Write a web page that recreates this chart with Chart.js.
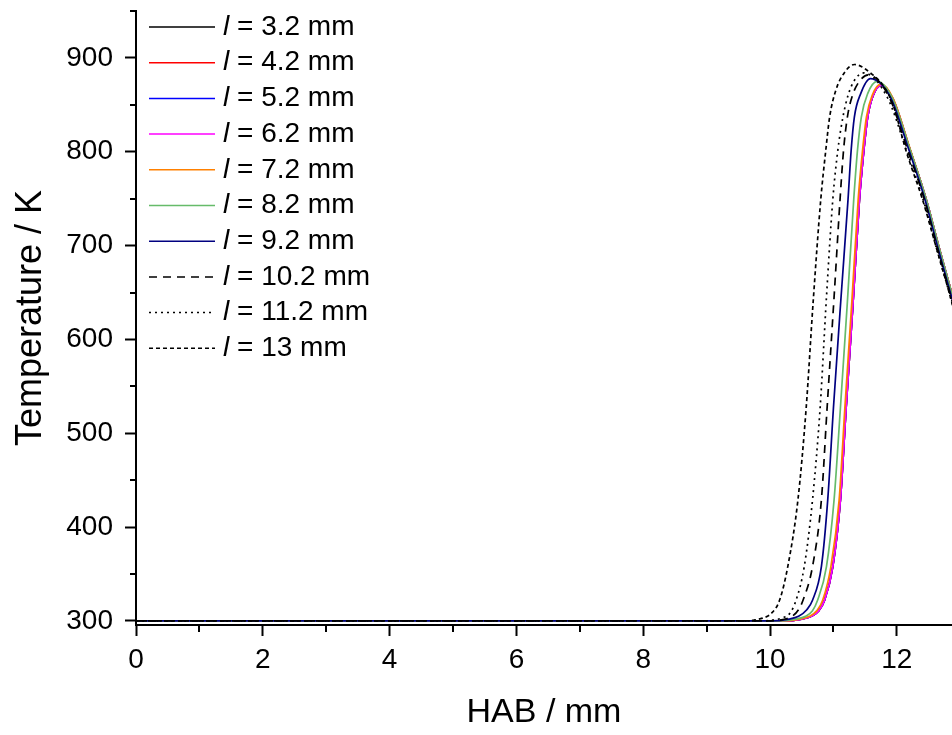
<!DOCTYPE html>
<html>
<head>
<meta charset="utf-8">
<script src="https://cdn.jsdelivr.net/npm/chart.js@4.4.1/dist/chart.umd.min.js"></script>
<style>
  html, body { margin: 0; padding: 0; background: #fff; overflow: hidden; }
  canvas { display: block; }
</style>
</head>
<body>
<canvas id="grafico" width="952" height="735"></canvas>
<script>
const fuente = '"Liberation Sans", Arial, sans-serif';

// leyenda (orden de la figura)
const etiquetas = ['3.2 mm', '4.2 mm', '5.2 mm', '6.2 mm', '7.2 mm', '8.2 mm', '9.2 mm', '10.2 mm', '11.2 mm', '13 mm'];
const colores   = ['#000000', '#ff0000', '#0000ff', '#ff00ff', '#ff8000', '#66bb6a', '#000080', '#000000', '#000000', '#000000'];
const trazos    = [[], [], [], [], [], [], [], [8, 6], [2, 4], [4, 3]];

// marcas de los ejes
const ticksX   = [0, 2, 4, 6, 8, 10, 12];
const menoresX = [1, 3, 5, 7, 9, 11, 13];
const ticksY   = [300, 400, 500, 600, 700, 800, 900];
const menoresY = [350, 450, 550, 650, 750, 850, 950];

// HAB (mm) y temperatura (K) de cada curva
const hab62  = [0, 4, 8, 10.2, 10.5, 10.65, 10.77, 10.86, 10.99, 11.11, 11.20, 11.31, 11.41, 11.48, 11.54, 11.62, 11.76, 11.94, 12.2, 12.46, 12.67, 12.83, 12.95];
const temp62 = [300, 300, 300, 300, 302, 305, 311, 322, 358, 429, 527, 640, 749, 802, 837, 859, 871, 856, 804, 750, 697, 658, 628];

const hab72  = [0, 4, 8, 10.17, 10.47, 10.62, 10.74, 10.83, 10.96, 11.09, 11.18, 11.29, 11.39, 11.46, 11.52, 11.61, 11.75, 11.94, 12.2, 12.46, 12.67, 12.83, 12.95];
const temp72 = [300, 300, 300, 300, 302, 305, 311, 322, 358, 429, 527, 640, 749, 802, 837, 860, 872, 857, 805, 750, 697, 658, 628];

const hab82  = [0, 4, 8, 10.1, 10.4, 10.56, 10.67, 10.75, 10.89, 11.01, 11.11, 11.22, 11.32, 11.38, 11.44, 11.54, 11.69, 11.93, 12.2, 12.46, 12.67, 12.83, 12.95];
const temp82 = [300, 300, 300, 300, 302, 305, 311, 322, 358, 429, 527, 640, 749, 802, 837, 862, 875, 857, 804, 750, 697, 658, 628];

const hab92  = [0, 4, 8, 10.0, 10.3, 10.45, 10.58, 10.67, 10.81, 10.91, 11.00, 11.12, 11.23, 11.28, 11.33, 11.43, 11.58, 11.9, 12.18, 12.44, 12.65, 12.81, 12.95];
const temp92 = [300, 300, 300, 300, 302, 305, 312, 322, 358, 429, 527, 645, 749, 802, 837, 862, 878, 858, 804, 750, 697, 658, 624];

const hab102  = [0, 4, 8, 9.95, 10.2, 10.35, 10.45, 10.52, 10.67, 10.81, 10.90, 11.01, 11.11, 11.16, 11.22, 11.30, 11.42, 11.55, 11.88, 12.16, 12.43, 12.64, 12.80, 12.95];
const temp102 = [300, 300, 300, 300, 301.5, 305, 312, 322, 358, 429, 527, 645, 755, 802, 837, 860, 876, 882, 858, 804, 750, 697, 658, 622];

const hab112  = [0, 4, 8, 9.85, 10.05, 10.18, 10.31, 10.41, 10.54, 10.67, 10.79, 10.89, 10.99, 11.07, 11.15, 11.23, 11.33, 11.48, 11.85, 12.15, 12.42, 12.63, 12.80, 12.95];
const temp112 = [300, 300, 300, 300, 301, 303, 308, 322, 358, 429, 527, 645, 749, 802, 837, 860, 876, 884, 858, 802, 748, 696, 656, 620];

const hab13  = [0, 4, 8, 9.6, 9.75, 9.88, 10.02, 10.15, 10.28, 10.44, 10.57, 10.68, 10.80, 10.88, 10.94, 11.04, 11.17, 11.33, 11.62, 11.78, 11.94, 12.15, 12.41, 12.63, 12.80, 12.93];
const temp13 = [300, 300, 300, 300, 301, 303, 308, 322, 358, 429, 527, 640, 749, 802, 837, 866, 884, 893, 882, 871, 850, 800, 748, 696, 656, 624];

// las curvas 3.2, 4.2 y 5.2 quedan tapadas por la de 6.2
const curvasX = [hab62, hab62, hab62, hab62, hab72, hab82, hab92, hab102, hab112, hab13];
const curvasY = [temp62, temp62, temp62, temp62, temp72, temp82, temp92, temp102, temp112, temp13];

function puntos(xs, ys) {
    return xs.map((v, i) => ({ x: v, y: ys[i] }));
}

const datasets = etiquetas.map((et, i) => ({
    label: 'l = ' + et,
    data: puntos(curvasX[i], curvasY[i]),
    borderColor: colores[i],
    borderDash: trazos[i],
    borderWidth: 1.7,
    pointRadius: 0,
    fill: false,
    cubicInterpolationMode: 'monotone'
})).reverse();   // el primero se dibuja encima

const marcasYLeyenda = {
    id: 'marcasYLeyenda',
    afterDraw(chart) {
        const { ctx, chartArea, scales: { x, y } } = chart;
        ctx.save();
        ctx.strokeStyle = '#000';
        ctx.lineWidth = 2;
        ctx.beginPath();
        for (const v of menoresX) {
            const px = Math.round(x.getPixelForValue(v));
            if (px > chartArea.right) continue;
            ctx.moveTo(px, chartArea.bottom);
            ctx.lineTo(px, chartArea.bottom + 7);
        }
        for (const v of menoresY) {
            const py = Math.round(y.getPixelForValue(v));
            ctx.moveTo(chartArea.left, py);
            ctx.lineTo(chartArea.left - 6, py);
        }
        ctx.stroke();

        // leyenda con la l en cursiva
        ctx.textBaseline = 'middle';
        ctx.fillStyle = '#000';
        etiquetas.forEach((et, i) => {
            const ly = 27 + i * 35.7;
            ctx.strokeStyle = colores[i];
            ctx.lineWidth = 1.5;
            ctx.setLineDash(trazos[i]);
            ctx.beginPath();
            ctx.moveTo(149, ly);
            ctx.lineTo(215, ly);
            ctx.stroke();
            ctx.setLineDash([]);
            ctx.font = 'italic 28px ' + fuente;
            ctx.fillText('l', 223, ly);
            const w = ctx.measureText('l').width;
            ctx.font = '28px ' + fuente;
            ctx.fillText(' = ' + et, 223 + w, ly);
        });
        ctx.restore();
    }
};

new Chart(document.getElementById('grafico').getContext('2d'), {
    type: 'line',
    data: { datasets: datasets },
    options: {
        responsive: false,
        animation: false,
        events: [],
        layout: { padding: { top: 11, left: 0, right: 0, bottom: 0 } },
        plugins: { legend: { display: false }, tooltip: { enabled: false } },
        scales: {
            x: {
                type: 'linear', min: 0, max: 12.87,
                afterBuildTicks: s => { s.ticks = ticksX.map(v => ({ value: v })); },
                afterFit: s => { s.height = 110; s.paddingLeft = 0; s.paddingRight = 0; },
                grid: { drawOnChartArea: false, drawTicks: true, tickLength: 11, tickWidth: 2, tickColor: '#000' },
                border: { display: true, color: '#000', width: 2 },
                ticks: { color: '#000', font: { family: fuente, size: 28 }, padding: 7, maxRotation: 0, autoSkip: false },
                title: { display: true, text: 'HAB / mm', color: '#000', font: { family: fuente, size: 34 }, padding: { top: 0, bottom: 2 } }
            },
            y: {
                type: 'linear', min: 295.7, max: 950,
                afterBuildTicks: s => { s.ticks = ticksY.map(v => ({ value: v })); },
                afterFit: s => { s.width = 136; s.paddingTop = 0; s.paddingBottom = 0; },
                grid: { drawOnChartArea: false, drawTicks: true, tickLength: 11, tickWidth: 2, tickColor: '#000' },
                border: { display: true, color: '#000', width: 2 },
                ticks: { color: '#000', font: { family: fuente, size: 28 }, padding: 12, autoSkip: false },
                title: { display: true, text: 'Temperature / K', color: '#000', font: { family: fuente, size: 36 }, padding: { top: 9, bottom: 0 } }
            }
        }
    },
    plugins: [marcasYLeyenda]
});
</script>
</body>
</html>
